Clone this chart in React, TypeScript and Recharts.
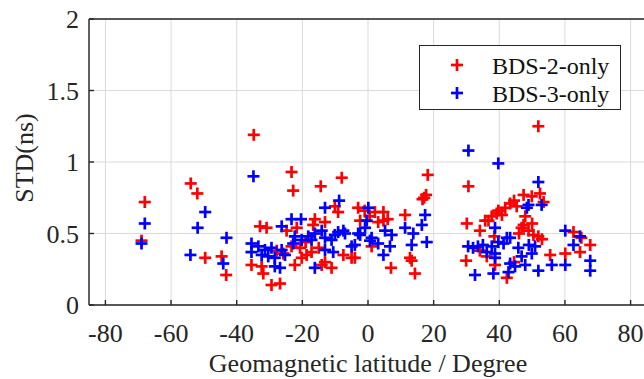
import React from 'react';
import { ScatterChart, Scatter, XAxis, YAxis, CartesianGrid, Legend } from 'recharts';

const bds2Lat = [
  -68, -69, -54, -52, -49.6, -44.6, -43.2, -34.8, -35.5, -32.4, -31.9, -29.4, -26.8, -22.3, -20.2, -18.7,
  -17.2, -25.8, -23.3, -14.1, -11.1, -13.1, -7.5, -5.0, -21.7, -23.3, -22.8, -14.4, -8.0, -10.1, -9.1,
  -16.2, -13.1, -16.7, -32.9, -30.9, -24.8, -27.8, -20.7, -19, -15, -3.0, -2.4, 1.1, -4.0, 2.1, 3.1, 4.7,
  4.7, 7.0, 11.3, 12.8, 13.3, 14.3, 18.2, 17.1, 17.7, 16.6, 0.5, -1, 6, 30.6, 30.1, 34.1, 29.9, 34.1, 36.7,
  39.2, 36.2, 38.5, 51.9, 47.4, 49.9, 52.4, 43.3, 45.3, 41.8, 39.7, 37.7, 40.8, 35.7, 47.9, 47.4, 46.8,
  48.9, 50.4, 51.9, 62.6, 67.7, 64.6, 60.1, 55.5, 42.3, 38.7, 44.5, 53.5, 50, 53, 44.5, 46, 65,
];
const bds2Std = [
  0.72, 0.45, 0.85, 0.78, 0.33, 0.34, 0.21, 1.19, 0.28, 0.27, 0.22, 0.14, 0.15, 0.28, 0.33, 0.35,
  0.37, 0.36, 0.41, 0.28, 0.26, 0.30, 0.35, 0.33, 0.54, 0.93, 0.80, 0.83, 0.89, 0.69, 0.65,
  0.60, 0.58, 0.56, 0.55, 0.54, 0.52, 0.38, 0.40, 0.44, 0.40, 0.68, 0.59, 0.41, 0.33, 0.65, 0.58, 0.65,
  0.59, 0.26, 0.63, 0.33, 0.31, 0.22, 0.91, 0.75, 0.77, 0.74, 0.62, 0.66, 0.60, 0.83, 0.57, 0.52, 0.31, 0.38, 0.59,
  0.64, 0.34, 0.48, 1.25, 0.77, 0.76, 0.78, 0.71, 0.69, 0.68, 0.66, 0.62, 0.63, 0.59, 0.62, 0.56, 0.54,
  0.52, 0.49, 0.48, 0.51, 0.42, 0.37, 0.36, 0.35, 0.19, 0.28, 0.73, 0.72, 0.57, 0.46, 0.30, 0.50, 0.47,
];

const bds3Lat = [
  -68, -69, -49.6, -51.9, -54.1, -44.1, -43.1, -34.9, -35.5, -33.4, -31.4, -29.4, -35.5, -32.4, -30.4,
  -28.4, -26.3, -25.3, -28.4, -26.8, -22.3, -22.8, -20.2, -18.2, -17.2, -16.2, -14.1, -13.1, -11.1, -10.1,
  -9.1, -7.5, -7.0, -13.1, -10.6, -16.2, -5.0, -23.3, -20.4, -13.1, -8.8, -26.3, -3, -4, 30.6, 17.4, 16.4,
  17.9, 11.3, 13.8, 13.3, 7.2, 6.7, 4.7, 5.2, 0.1, -0.4, -0.9, -2.4, 1.1, 0.6, 3.1, 30.5, 32, 33.5, 32.6,
  39.7, 51.9, 48.9, 52.9, 48.4, 38.7, 60.1, 64.6, 62.6, 67.7, 67.7, 56.0, 60.1, 50.9, 49.9, 45.8, 46.8,
  43.3, 41.3, 47.9, 44.8, 43.3, 42.8, 38.2, 51.9, 37.7, 38.7, 36.2, 39.7, 42.3, 38.7, 35, 49,
];
const bds3Std = [
  0.57, 0.43, 0.65, 0.54, 0.35, 0.29, 0.47, 0.90, 0.43, 0.41, 0.385, 0.40, 0.37, 0.35, 0.34,
  0.33, 0.385, 0.35, 0.27, 0.26, 0.48, 0.43, 0.455, 0.48, 0.455, 0.50, 0.52, 0.47, 0.455, 0.49,
  0.51, 0.52, 0.50, 0.385, 0.37, 0.26, 0.41, 0.60, 0.60, 0.68, 0.73, 0.55, 0.50, 0.42, 1.08, 0.63, 0.56,
  0.44, 0.54, 0.50, 0.42, 0.49, 0.41, 0.35, 0.52, 0.68, 0.59, 0.54, 0.49, 0.47, 0.45, 0.43, 0.41, 0.40, 0.41, 0.21,
  0.99, 0.86, 0.70, 0.70, 0.68, 0.54, 0.52, 0.48, 0.42, 0.31, 0.24, 0.28, 0.28, 0.41, 0.36, 0.40, 0.34,
  0.47, 0.43, 0.28, 0.27, 0.29, 0.23, 0.22, 0.24, 0.41, 0.36, 0.37, 0.44, 0.47, 0.33, 0.42, 0.42,
];

const seriesNames = ['BDS-2-only', 'BDS-3-only'];
const seriesColors = ['#ff0000', '#0000ff'];
const xTicks = [-80, -60, -40, -20, 0, 20, 40, 60, 80];
const yTicks = [0, 0.5, 1, 1.5, 2];
const xDomain = [-85, 85];
const yDomain = [0, 2];

const bds2 = bds2Lat.map((lat, i) => ({ lat, std: bds2Std[i] }));
const bds3 = bds3Lat.map((lat, i) => ({ lat, std: bds3Std[i] }));

const FONT = '"Liberation Serif", "Times New Roman", serif';
const AXIS = '#262626';
const ARM = 6;
const MARK_W = 2.7;

const makeCross = (color: string) => (props: any) => {
  const { cx, cy } = props;
  if (cx == null || cy == null) return <g />;
  return (
    <g>
      <line x1={cx - ARM} x2={cx + ARM} y1={cy} y2={cy} stroke={color} strokeWidth={MARK_W} />
      <line x1={cx} x2={cx} y1={cy - ARM} y2={cy + ARM} stroke={color} strokeWidth={MARK_W} />
    </g>
  );
};

const LegendBox = () => (
  <div
    style={{
      position: 'relative',
      width: 202,
      height: 65,
      boxSizing: 'border-box',
      border: `1.5px solid ${AXIS}`,
      background: '#fff',
      fontFamily: FONT,
      fontSize: 24,
      color: '#111',
    }}
  >
    {seriesNames.map((name, i) => (
      <div key={name}>
        <svg
          width={14}
          height={14}
          style={{ position: 'absolute', left: 37 - 7, top: 18.5 - 7 + i * 28 }}
        >
          <line x1={1} x2={13} y1={7} y2={7} stroke={seriesColors[i]} strokeWidth={MARK_W} />
          <line x1={7} x2={7} y1={1} y2={13} stroke={seriesColors[i]} strokeWidth={MARK_W} />
        </svg>
        <div
          style={{
            position: 'absolute',
            left: 72,
            top: 7.5 + i * 28,
            lineHeight: '24px',
            whiteSpace: 'nowrap',
          }}
        >
          {name}
        </div>
      </div>
    ))}
  </div>
);

export default function App() {
  const tickStyle = { fill: AXIS, fontSize: 26, fontFamily: FONT };
  return (
    <div
      style={{
        position: 'fixed',
        left: 0,
        top: 0,
        width: 644,
        height: 379,
        overflow: 'hidden',
        background: '#fff',
        fontFamily: FONT,
      }}
    >
      <ScatterChart width={660} height={379} margin={{ top: 0, right: 0, bottom: 0, left: 0 }}>
        <CartesianGrid stroke="#dadada" strokeWidth={1} />
        <XAxis
          dataKey="lat"
          type="number"
          domain={xDomain}
          ticks={xTicks}
          height={74}
          tickSize={-5}
          tickMargin={24}
          tick={tickStyle}
          axisLine={{ stroke: AXIS, strokeWidth: 1.4 }}
          tickLine={{ stroke: AXIS, strokeWidth: 1.4 }}
          label={{
            value: 'Geomagnetic latitude / Degree',
            position: 'insideBottom',
            offset: 7,
            fill: AXIS,
            fontSize: 26,
            fontFamily: FONT,
          }}
        />
        <XAxis
          xAxisId="top"
          orientation="top"
          type="number"
          domain={xDomain}
          ticks={xTicks}
          height={19}
          tickSize={-5}
          tick={false}
          axisLine={{ stroke: AXIS, strokeWidth: 1.4 }}
          tickLine={{ stroke: AXIS, strokeWidth: 1.4 }}
        />
        <YAxis
          dataKey="std"
          type="number"
          domain={yDomain}
          ticks={yTicks}
          width={89}
          tickSize={-5}
          tickMargin={15}
          tick={tickStyle}
          axisLine={{ stroke: AXIS, strokeWidth: 1.4 }}
          tickLine={{ stroke: AXIS, strokeWidth: 1.4 }}
          label={{
            value: 'STD(ns)',
            position: 'center',
            angle: -90,
            dx: -21,
            dy: -4,
            fill: AXIS,
            fontSize: 26,
            fontFamily: FONT,
          }}
        />
        <YAxis
          yAxisId="right"
          orientation="right"
          type="number"
          domain={yDomain}
          ticks={yTicks}
          width={13}
          tickSize={-5}
          tick={false}
          axisLine={{ stroke: AXIS, strokeWidth: 1.4 }}
          tickLine={{ stroke: AXIS, strokeWidth: 1.4 }}
        />
        <Legend
          layout="vertical"
          align="center"
          verticalAlign="middle"
          wrapperStyle={{ left: 419, top: 45, width: 202, height: 65 }}
          content={() => <LegendBox />}
        />
        <Scatter
          name={seriesNames[0]}
          data={bds2}
          fill={seriesColors[0]}
          shape={makeCross(seriesColors[0])}
          isAnimationActive={false}
        />
        <Scatter
          name={seriesNames[1]}
          data={bds3}
          fill={seriesColors[1]}
          shape={makeCross(seriesColors[1])}
          isAnimationActive={false}
        />
      </ScatterChart>
    </div>
  );
}
